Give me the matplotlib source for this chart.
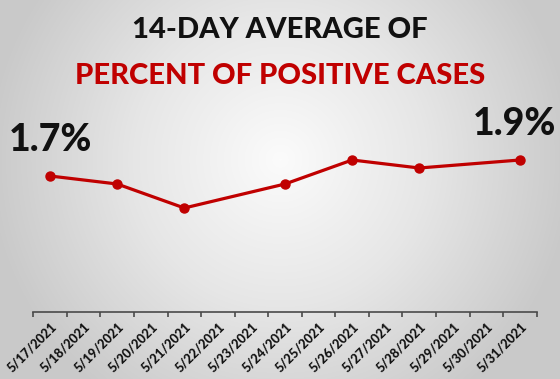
import numpy as np
import matplotlib
matplotlib.use("Agg")
import matplotlib.pyplot as plt
from matplotlib.colors import LinearSegmentedColormap

# ---- data ----
categories = ["5/17/2021", "5/18/2021", "5/19/2021", "5/20/2021", "5/21/2021",
              "5/22/2021", "5/23/2021", "5/24/2021", "5/25/2021", "5/26/2021",
              "5/27/2021", "5/28/2021", "5/29/2021", "5/30/2021", "5/31/2021"]
point_dates = ["5/17/2021", "5/19/2021", "5/21/2021", "5/24/2021",
               "5/26/2021", "5/28/2021", "5/31/2021"]
values = [1.7, 1.6, 1.3, 1.6, 1.9, 1.8, 1.9]
label_first = "1.7%"
label_last = "1.9%"
title_line1 = "14-DAY AVERAGE OF"
title_line2 = "PERCENT OF POSITIVE CASES"

RED = "#c00000"
FONT = "Lato"

W, H = 560, 379
fig = plt.figure(figsize=(W / 100, H / 100), dpi=100)

# radial gradient background
bg = fig.add_axes([0, 0, 1, 1], zorder=-10)
yy, xx = np.mgrid[0:H, 0:W]
cx, cy = 0.5 * W, 0.42 * H
r = np.sqrt(((xx - cx) / (0.62 * W)) ** 2 + ((yy - cy) / (0.62 * W)) ** 2)
r = np.clip(r / 0.85, 0, 1)
cmap = LinearSegmentedColormap.from_list("g", ["#fbfbfb", "#e6e6e6", "#c9c9c9"])
bg.imshow(r, cmap=cmap, vmin=0, vmax=1, aspect="auto", extent=[0, W, H, 0])
bg.set_axis_off()

# main axes
left = 33.3 / W
right = 536.7 / W
bottom = (H - 312) / H
top = (H - 112) / H
ax = fig.add_axes([left, bottom, right - left, top - bottom])
ax.patch.set_alpha(0)

xpos = [categories.index(d) for d in point_dates]
ax.plot(xpos, values, color=RED, lw=2.3, marker="o", ms=6.5,
        markerfacecolor=RED, markeredgecolor=RED, solid_capstyle="round", zorder=3)

ax.set_xlim(-0.5, len(categories) - 0.5)
ax.set_ylim(0, 2.5)

for s in ["top", "right", "left"]:
    ax.spines[s].set_visible(False)
ax.spines["bottom"].set_color("#4a4a4a")
ax.spines["bottom"].set_linewidth(1.2)
ax.set_yticks([])

ax.set_xticks(range(len(categories)))
ax.set_xticklabels(categories, rotation=45, ha="right", rotation_mode="anchor",
                   fontsize=9.2, fontweight=900, fontname=FONT, color="#111111")
ax.tick_params(axis="x", which="major", length=0, pad=6)
ax.set_xticks(np.arange(-0.5, len(categories), 1.0), minor=True)
ax.tick_params(axis="x", which="minor", length=3.5, width=1.2, color="#4a4a4a", direction="out")

# data labels
ax.annotate(label_first, (xpos[0], values[0]), xytext=(0, 14), textcoords="offset points",
            ha="center", va="bottom", fontsize=27, fontweight=900, fontname=FONT, color="#111111")
ax.annotate(label_last, (xpos[-1], values[-1]), xytext=(-4, 14), textcoords="offset points",
            ha="center", va="bottom", fontsize=27, fontweight=900, fontname=FONT, color="#111111")

# title
fig.text(0.5, 1 - 30 / H, title_line1, ha="center", va="center", fontsize=21,
         fontweight=900, fontname=FONT, color="#111111")
fig.text(0.5, 1 - 76 / H, title_line2, ha="center", va="center", fontsize=21,
         fontweight=900, fontname=FONT, color=RED)

fig.savefig("out.png", dpi=100)
